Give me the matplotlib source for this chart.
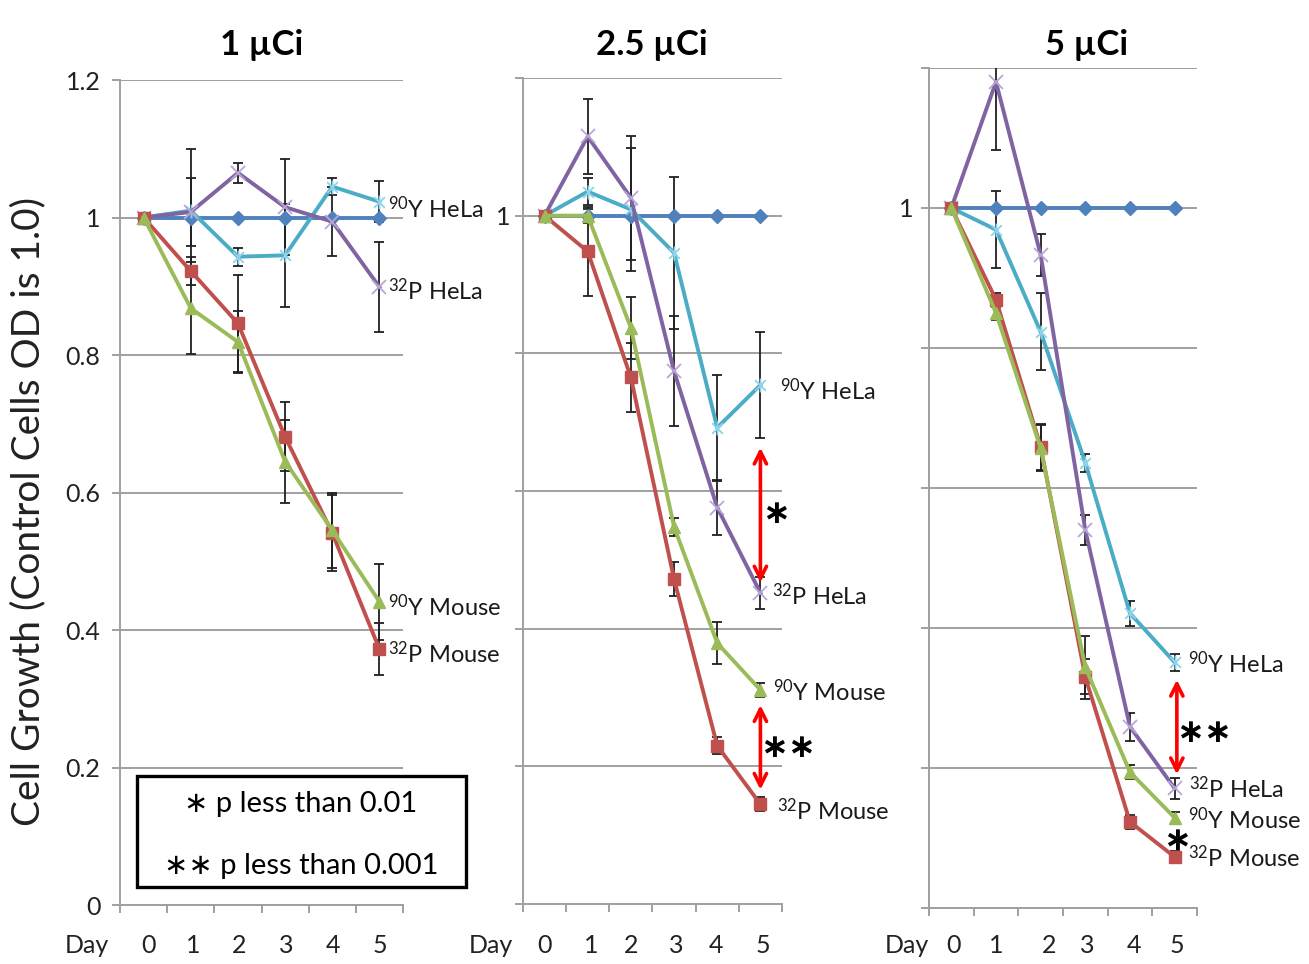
import matplotlib
matplotlib.use("Agg")
import matplotlib.pyplot as plt
from matplotlib.path import Path
from matplotlib.patches import Rectangle
import matplotlib.transforms as mtransforms

plt.rcParams['font.family'] = ['Lato', 'DejaVu Sans']
plt.rcParams['mathtext.default'] = 'regular'

# ---------------- data ----------------
days = [0, 1, 2, 3, 4, 5]
titles = ["1 µCi", "2.5 µCi", "5 µCi"]
control = [1.0, 1.0, 1.0, 1.0, 1.0, 1.0]

p1_y90_mouse = [1.0, 0.868, 0.819, 0.645, 0.545, 0.441]
p1_p32_mouse = [1.0, 0.922, 0.846, 0.681, 0.541, 0.372]
p1_p32_hela = [1.0, 1.008, 1.065, 1.015, 0.994, 0.899]
p1_y90_hela = [1.0, 1.010, 0.943, 0.945, 1.045, 1.023]
p1_y90_mouse_err = [0, 0.067, 0.045, 0.060, 0.055, 0.055]
p1_p32_mouse_err = [0, 0.020, 0.070, 0.050, 0.055, 0.038]
p1_p32_hela_err = [0, 0.050, 0.015, 0.070, 0.050, 0.065]
p1_y90_hela_err = [0, 0.090, 0.013, 0.075, 0.012, 0.030]

p2_y90_mouse = [1.0, 1.0, 0.837, 0.548, 0.379, 0.311]
p2_p32_mouse = [1.0, 0.948, 0.765, 0.472, 0.230, 0.145]
p2_p32_hela = [1.0, 1.115, 1.026, 0.774, 0.576, 0.452]
p2_y90_hela = [1.0, 1.035, 1.009, 0.946, 0.692, 0.754]
p2_y90_mouse_err = [0, 0.010, 0.045, 0.013, 0.030, 0.010]
p2_p32_mouse_err = [0, 0.065, 0.050, 0.025, 0.012, 0.010]
p2_p32_hela_err = [0, 0.055, 0.090, 0.080, 0.040, 0.023]
p2_y90_hela_err = [0, 0.020, 0.090, 0.110, 0.077, 0.077]

p3_y90_mouse = [1.0, 0.850, 0.657, 0.344, 0.194, 0.129]
p3_p32_mouse = [1.0, 0.869, 0.659, 0.330, 0.123, 0.073]
p3_p32_hela = [1.0, 1.180, 0.933, 0.540, 0.259, 0.171]
p3_y90_hela = [1.0, 0.969, 0.823, 0.636, 0.421, 0.351]
p3_y90_mouse_err = [0, 0.010, 0.033, 0.045, 0.010, 0.008]
p3_p32_mouse_err = [0, 0.010, 0.033, 0.025, 0.010, 0.008]
p3_p32_hela_err = [0, 0.097, 0.030, 0.022, 0.020, 0.015]
p3_y90_hela_err = [0, 0.055, 0.055, 0.013, 0.018, 0.012]

label_texts = [r"$^{90}$Y HeLa", r"$^{32}$P HeLa", r"$^{90}$Y Mouse", r"$^{32}$P Mouse"]
# label anchor positions (x in day units, y baseline in value units) per panel
p1_label_pos = [(5.19, 0.999), (5.19, 0.880), (5.19, 0.420), (5.19, 0.352)]
p2_label_pos = [(5.46, 0.733), (5.28, 0.435), (5.30, 0.295), (5.39, 0.122)]
p3_label_pos = [(5.29, 0.336), (5.33, 0.157), (5.29, 0.113), (5.29, 0.059)]

# day label positions (x in day units)
day_label_x = [
    [0.10, 1.06, 2.03, 3.02, 4.01, 5.00],
    [0.00, 1.08, 2.01, 3.05, 3.98, 5.05],
    [0.05, 1.00, 2.20, 3.05, 4.10, 5.05],
]
day_word_x = [-1.2, -1.25, -1.0]

# ---------------- styles ----------------
c_ctrl = '#4F81BD'
c_red = '#C0504D'
c_green = '#9BBB59'
c_purple = '#8064A2'
c_cyan = '#4BACC6'
grid_c = '#A0A0A0'

star = Path([(-1, -1), (1, 1), (-1, 1), (1, -1), (0, -1.3), (0, 1.3)],
            [Path.MOVETO, Path.LINETO] * 3)

fig = plt.figure(figsize=(13.09, 9.64), dpi=100)
W, H = 1309.0, 964.0
positions = [
    [0.0917, 0.0612, 0.2162, 0.8558],
    [0.3995, 0.0622, 0.1979, 0.8569],
    [0.7097, 0.0581, 0.2047, 0.8714],
]
title_x = [262, 652, 1087]
ylabel_pad = [8, 3, 5]

panels = [
    (p1_y90_mouse, p1_p32_mouse, p1_p32_hela, p1_y90_hela,
     p1_y90_mouse_err, p1_p32_mouse_err, p1_p32_hela_err, p1_y90_hela_err, p1_label_pos),
    (p2_y90_mouse, p2_p32_mouse, p2_p32_hela, p2_y90_hela,
     p2_y90_mouse_err, p2_p32_mouse_err, p2_p32_hela_err, p2_y90_hela_err, p2_label_pos),
    (p3_y90_mouse, p3_p32_mouse, p3_p32_hela, p3_y90_hela,
     p3_y90_mouse_err, p3_p32_mouse_err, p3_p32_hela_err, p3_y90_hela_err, p3_label_pos),
]

axes = []
for i, (ym, pm, ph, yh, yme, pme, phe, yhe, lpos) in enumerate(panels):
    ax = fig.add_axes(positions[i])
    axes.append(ax)
    ax.set_xlim(-0.5, 5.5)
    ax.set_ylim(0, 1.2)
    yt = [0, 0.2, 0.4, 0.6, 0.8, 1.0, 1.2]
    ax.set_yticks(yt)
    if i == 0:
        ax.set_yticklabels(['0', '0.2', '0.4', '0.6', '0.8', '1', '1.2'])
    else:
        ax.set_yticklabels(['', '', '', '', '', '1', ''])
    ax.set_xticks([-0.5, 0.5, 1.5, 2.5, 3.5, 4.5, 5.5])
    ax.set_xticklabels([])
    ax.tick_params(axis='y', length=6, width=1.4, color=grid_c, labelsize=18,
                   pad=ylabel_pad[i], labelcolor='#222222')
    ax.tick_params(axis='x', length=6, width=1.4, color=grid_c)
    ax.grid(axis='y', color=grid_c, lw=1.4)
    ax.set_axisbelow(True)
    for s in ['top', 'right']:
        ax.spines[s].set_visible(False)
    for s in ['left', 'bottom']:
        ax.spines[s].set_color(grid_c)
        ax.spines[s].set_linewidth(1.4)
    ax.patch.set_alpha(0)

    ekw = dict(fmt='none', ecolor='#202020', elinewidth=1.3, capsize=3.5, capthick=1.3, zorder=2)
    ax.errorbar(days, yh, yerr=yhe, **ekw)
    ax.errorbar(days, ph, yerr=phe, **ekw)
    ax.errorbar(days, ym, yerr=yme, **ekw)
    ax.errorbar(days, pm, yerr=pme, **ekw)

    ax.plot(days, control, color=c_ctrl, lw=2.8, marker='D', ms=7, mfc=c_ctrl, mec=c_ctrl, zorder=3)
    ax.plot(days, yh, color=c_cyan, lw=2.8, marker=star, ms=10, mec='#8FD3E8', mew=1.3, zorder=4)
    ax.plot(days, ph, color=c_purple, lw=2.8, marker='x', ms=10, mec='#B8A7D6', mew=1.3, zorder=4)
    ax.plot(days, pm, color=c_red, lw=2.8, marker='s', ms=8, mfc=c_red, mec=c_red, zorder=5)
    ax.plot(days, ym, color=c_green, lw=2.8, marker='^', ms=9, mfc=c_green, mec=c_green, zorder=6)

    for txt, (lx, ly) in zip(label_texts, lpos):
        ax.text(lx, ly, txt, fontsize=17, ha='left', va='baseline', color='#1a1a1a',
                clip_on=False, zorder=7)

    fig.text(title_x[i] / W, 1 - 45 / H, titles[i], fontsize=25, fontweight='bold',
             ha='center', va='center')

    # day labels below axis
    tr = mtransforms.blended_transform_factory(ax.transData, fig.transFigure)
    ax.text(day_word_x[i], 0.019, "Day", transform=tr, fontsize=18, ha='center', va='center',
            color='#222222')
    for d, dx in zip(days, day_label_x[i]):
        ax.text(dx, 0.019, str(d), transform=tr, fontsize=18, ha='center', va='center',
                color='#222222')

# significance arrows and stars
ax2 = axes[1]
akw = dict(arrowstyle='<->', color='red', lw=2.6, mutation_scale=22, shrinkA=0, shrinkB=0)
ax2.annotate('', xy=(5.0, 0.663), xytext=(5.0, 0.467), arrowprops=akw)
ax2.annotate('', xy=(5.0, 0.289), xytext=(5.0, 0.166), arrowprops=akw)
ax2.text(5.37, 0.568, "∗", fontsize=24, ha='center', va='center', fontweight='bold',
         family=['DejaVu Sans'], clip_on=False)
ax2.text(5.65, 0.228, "∗∗", fontsize=24, ha='center', va='center', fontweight='bold',
         family=['DejaVu Sans'], clip_on=False)

ax3 = axes[2]
ax3.annotate('', xy=(5.05, 0.326), xytext=(5.05, 0.191), arrowprops=akw)
ax3.text(5.67, 0.251, "∗∗", fontsize=24, ha='center', va='center', fontweight='bold',
         family=['DejaVu Sans'], clip_on=False)
ax3.text(5.05, 0.097, "∗", fontsize=24, ha='center', va='center', fontweight='bold',
         family=['DejaVu Sans'], clip_on=False)

# y-axis label
fig.text(0.0214, 0.469, "Cell Growth (Control Cells OD is 1.0)", rotation=90,
         fontsize=28, ha='center', va='center', color='#222222')

# significance legend box
box = Rectangle((137 / W, 1 - 887 / H), (466 - 137) / W, (887 - 776) / H,
                transform=fig.transFigure, fill=True, facecolor='white',
                edgecolor='black', lw=2.4, zorder=10)
fig.add_artist(box)
fig.text(301 / W, 1 - 804 / H, "∗ p less than 0.01", fontsize=21, ha='center', va='center', zorder=11)
fig.text(301 / W, 1 - 866 / H, "∗∗ p less than 0.001", fontsize=21, ha='center', va='center', zorder=11)

fig.savefig("out.png", dpi=100)
